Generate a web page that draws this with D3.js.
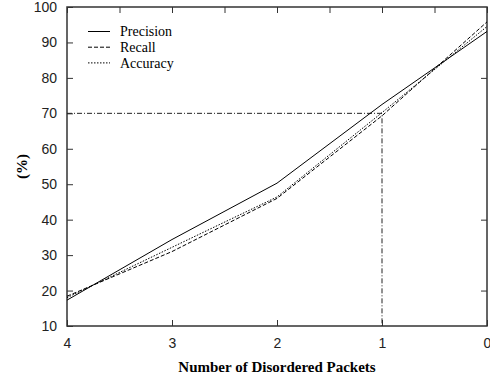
<html>
<head>
<script src="https://d3js.org/d3.v7.min.js" charset="utf-8"></script>
<style>
  body { margin: 0; background: #fff; }
  .tick text { font-family: "Liberation Sans", Arial, sans-serif; font-size: 14px; fill: #222; }
  .domain { display: none; }
  .tick line { stroke: #333; }
</style>
</head>
<body>
<div id="viz"></div>
<script>
// data
const packets   = [4, 3, 2, 1, 0];
const precision = [17.3, 34.4, 50.3, 72.5, 93.1];
const recall    = [18.4, 31.0, 46.0, 69.3, 95.8];
const accuracy  = [18.0, 32.2, 46.4, 70.2, 94.5];
const xTicks  = [4, 3, 2, 1, 0];
const x2Ticks = [4, 3.5, 3, 2.5, 2, 1.5, 1, 0.5, 0];
const yTicks  = [10, 20, 30, 40, 50, 60, 70, 80, 90, 100];
const y2Ticks = [20, 40, 60, 80];
const refX = 1, refY = 70;

const series = [
  { name: 'Precision', values: precision, dash: null },
  { name: 'Recall',    values: recall,    dash: '4,2' },
  { name: 'Accuracy',  values: accuracy,  dash: '1.5,1.5' }
];

const width = 490, height = 379;
const margin = { top: 7, right: 3, bottom: 53, left: 67 };
const w = width - margin.left - margin.right,
      h = height - margin.top - margin.bottom;

const svg = d3.select('#viz').append('svg').attr('width', width).attr('height', height)
              .append('g').attr('transform', `translate(${margin.left}, ${margin.top})`);

const x = d3.scaleLinear().domain([4, 0]).range([0, w]);
const y = d3.scaleLinear().domain([10, 100]).range([h, 0]);

// axes (ticks point inward)
svg.append('g').call(d3.axisLeft(y).tickValues(yTicks).tickSizeInner(-6).tickSizeOuter(0).tickPadding(10));
svg.append('g').attr('transform', `translate(${w},0)`)
   .call(d3.axisRight(y).tickValues(y2Ticks).tickSizeInner(-6).tickSizeOuter(0).tickFormat(''));
svg.append('g').attr('transform', `translate(0,${h})`)
   .call(d3.axisBottom(x).tickValues(xTicks).tickSizeInner(-6).tickSizeOuter(0).tickPadding(12).tickFormat(d3.format('d')));
svg.append('g')
   .call(d3.axisTop(x).tickValues(x2Ticks).tickSizeInner(-6).tickSizeOuter(0).tickFormat(''));

// frame
svg.append('rect').attr('width', w).attr('height', h)
   .attr('fill', 'none').attr('stroke', '#333').attr('stroke-width', 1.5);

// 70% reference lines
svg.append('path')
   .attr('d', `M${x(4)},${y(refY)}H${x(refX)}V${y(10)}`)
   .attr('fill', 'none').attr('stroke', '#222').attr('stroke-width', 1)
   .attr('stroke-dasharray', '5,2,1,2');

const line = d3.line().x((d, i) => x(packets[i])).y(d => y(d));

svg.selectAll('.series').data(series).join('path')
   .attr('class', 'series')
   .attr('d', d => line(d.values))
   .attr('fill', 'none').attr('stroke', '#000').attr('stroke-width', 1)
   .attr('stroke-dasharray', d => d.dash);

// legend
const legend = svg.selectAll('.legend').data(series).join('g')
   .attr('class', 'legend')
   .attr('transform', (d, i) => `translate(21, ${24.5 + i * 15.7})`);
legend.append('line').attr('x1', 0).attr('x2', 22)
   .attr('stroke', '#000').attr('stroke-width', 1)
   .attr('stroke-dasharray', d => d.dash);
legend.append('text').text(d => d.name)
   .attr('x', 32).attr('dy', '0.35em')
   .style('font-family', '"Liberation Serif", "Times New Roman", serif')
   .style('font-size', '14px');

// axis titles
svg.append('text').text('Number of Disordered Packets')
   .attr('x', w / 2).attr('y', h + 46).attr('text-anchor', 'middle')
   .style('font-family', '"Liberation Serif", "Times New Roman", serif')
   .style('font-size', '15px').style('font-weight', 'bold');
svg.append('text').text('(%)')
   .attr('transform', `translate(${-40}, ${h / 2}) rotate(-90)`)
   .attr('text-anchor', 'middle')
   .style('font-family', '"Liberation Serif", "Times New Roman", serif')
   .style('font-size', '15px').style('font-weight', 'bold');
</script>
</body>
</html>
